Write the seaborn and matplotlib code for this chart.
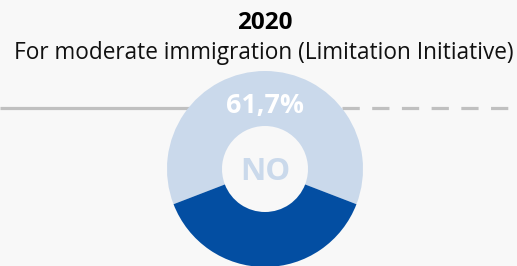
import matplotlib
matplotlib.use("Agg")
import matplotlib.pyplot as plt
import seaborn as sns

# Data
year_label = "2020"
vote_title = "For moderate immigration (Limitation Initiative)"
result_label = "NO"
shares = [61.7, 38.3]          # no, yes
share_colors = ["#cad9eb", "#034ea2"]

sns.set_theme(style="white")
plt.rcParams['font.family'] = ['Open Sans', 'DejaVu Sans']

BG = "#f8f8f8"
W, H = 517, 266

fig = plt.figure(figsize=(W / 100, H / 100), dpi=100, facecolor=BG)
ax = fig.add_axes([0, 0, 1, 1])
ax.set_facecolor(BG)

cx, cy = 265, H - 169
r_out, r_in = 98, 43

# timeline behind the donut: solid for the past, dashed afterwards
line_y = H - 107.5
ax.plot([0, cx], [line_y, line_y], color="#c0c0c0", lw=2.3, zorder=1,
        solid_capstyle='butt')
ax.plot([341.5, W], [line_y, line_y], color="#c0c0c0", lw=2.3, zorder=1,
        dashes=(5.4, 3.9), dash_capstyle='butt')

start = 90 - shares[0] * 3.6 / 2
ax.pie(shares, colors=share_colors, radius=r_out, center=(cx, cy),
       startangle=start, counterclock=True,
       wedgeprops=dict(width=r_out - r_in, edgecolor='none', zorder=2),
       frame=True)
ax.set_xlim(0, W)
ax.set_ylim(0, H)
ax.set_aspect('equal')
ax.axis('off')

ax.text(cx, H - 112.5, f"{shares[0]:.1f}%".replace('.', ','), ha='center',
        va='baseline', color='white', fontsize=19.3, fontweight='bold', zorder=3)
ax.text(cx, H - 180, result_label, ha='center', va='baseline',
        color=share_colors[0], fontsize=22.5, fontweight='bold', zorder=3)

ax.text(264.5, H - 29, year_label, ha='center', va='baseline', color='black',
        fontsize=17.5, fontweight='bold')
ax.text(264, H - 59.3, vote_title, ha='center', va='baseline', color='#111111',
        fontsize=16.3)

fig.savefig("out.png", dpi=100, facecolor=BG)
